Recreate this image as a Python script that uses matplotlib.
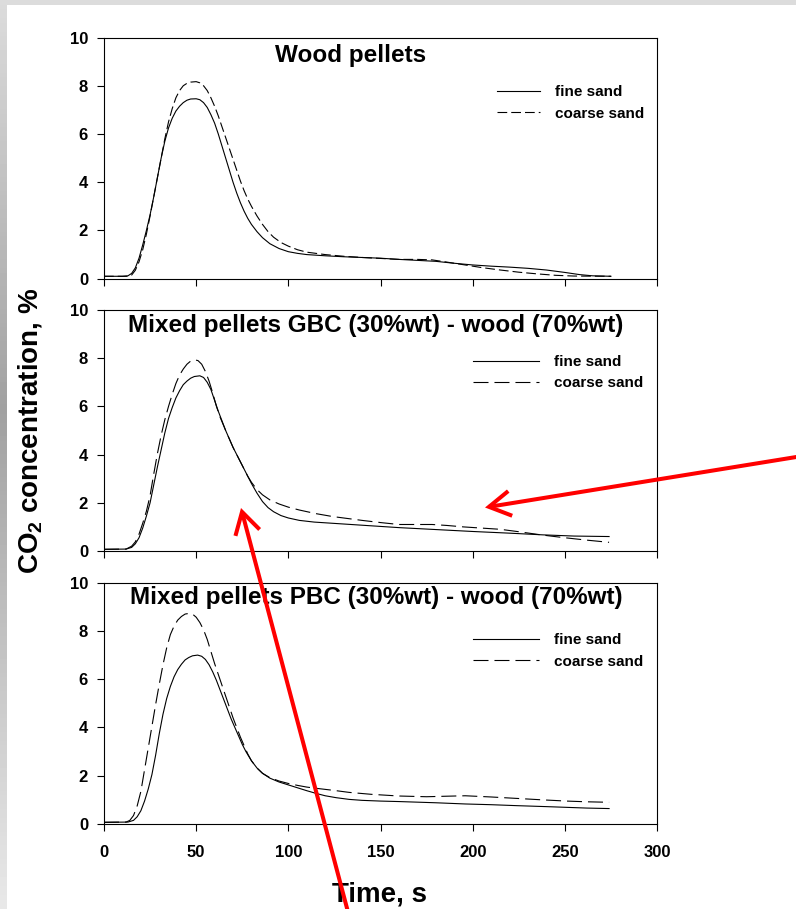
import numpy as np
import matplotlib
matplotlib.use("Agg")
import matplotlib.pyplot as plt
from matplotlib.patches import FancyArrowPatch, Rectangle

plt.rcParams['font.family'] = ['Liberation Sans', 'DejaVu Sans']
plt.rcParams['font.weight'] = 'bold'
plt.rcParams['mathtext.fontset'] = 'custom'
plt.rcParams['mathtext.rm'] = 'Liberation Sans:bold'
plt.rcParams['mathtext.it'] = 'Liberation Sans:bold'
plt.rcParams['mathtext.bf'] = 'Liberation Sans:bold'
plt.rcParams['lines.scale_dashes'] = False

# ---------------- data ----------------
titles = ["Wood pellets",
          "Mixed pellets GBC (30%wt) - wood (70%wt)",
          "Mixed pellets PBC (30%wt) - wood (70%wt)"]
series_labels = ["fine sand", "coarse sand"]
x_ticks = [0, 50, 100, 150, 200, 250, 300]
y_ticks = [0, 2, 4, 6, 8, 10]

# Wood pellets
wood_fine_t = [0, 10, 13, 15, 17, 19, 21, 23, 25, 27, 29, 31, 33, 35, 37, 39, 41, 43, 45, 47, 50, 52, 54, 56, 58, 60, 62, 64, 66, 68, 70, 72, 74, 76, 78, 80, 83, 86, 90, 95, 100, 105, 110, 120, 130, 140, 150, 160, 170, 180, 190, 200, 210, 220, 230, 240, 250, 258, 265, 275]
wood_fine_v = [0.1, 0.1, 0.12, 0.22, 0.45, 0.85, 1.4, 2.0, 2.65, 3.4, 4.2, 5.0, 5.7, 6.25, 6.65, 6.95, 7.15, 7.3, 7.4, 7.45, 7.46, 7.42, 7.3, 7.1, 6.8, 6.45, 6.0, 5.5, 5.0, 4.5, 4.0, 3.55, 3.15, 2.8, 2.5, 2.25, 1.95, 1.7, 1.45, 1.25, 1.12, 1.05, 1.0, 0.95, 0.91, 0.88, 0.85, 0.8, 0.76, 0.72, 0.64, 0.57, 0.52, 0.48, 0.43, 0.36, 0.26, 0.17, 0.12, 0.1]
wood_coarse_t = [0, 13, 15, 17, 19, 21, 23, 25, 27, 29, 31, 33, 35, 37, 39, 41, 43, 45, 47, 50, 52, 54, 56, 58, 60, 62, 64, 66, 68, 70, 72, 74, 76, 78, 80, 83, 86, 89, 92, 96, 100, 105, 110, 120, 130, 140, 150, 160, 170, 178, 185, 195, 205, 215, 225, 235, 245, 255, 275]
wood_coarse_v = [0.1, 0.1, 0.15, 0.35, 0.7, 1.2, 1.85, 2.6, 3.4, 4.2, 5.0, 5.8, 6.5, 7.05, 7.5, 7.8, 8.0, 8.1, 8.15, 8.17, 8.12, 8.0, 7.8, 7.5, 7.15, 6.75, 6.3, 5.85, 5.4, 4.95, 4.5, 4.05, 3.65, 3.3, 3.0, 2.6, 2.25, 1.95, 1.72, 1.5, 1.35, 1.2, 1.1, 1.0, 0.93, 0.88, 0.84, 0.8, 0.8, 0.78, 0.7, 0.58, 0.46, 0.36, 0.27, 0.2, 0.14, 0.11, 0.1]

# Mixed GBC
gbc_fine_t = [0, 12, 15, 17, 19, 21, 23, 25, 27, 29, 31, 33, 35, 37, 39, 41, 43, 45, 47, 49, 52, 54, 56, 58, 60, 62, 64, 66, 68, 70, 72, 74, 76, 78, 80, 83, 86, 89, 92, 96, 100, 106, 114, 124, 140, 160, 180, 200, 220, 238, 255, 274]
gbc_fine_v = [0.07, 0.08, 0.15, 0.3, 0.55, 0.95, 1.45, 2.0, 2.75, 3.5, 4.2, 4.9, 5.5, 5.95, 6.35, 6.65, 6.9, 7.05, 7.17, 7.24, 7.27, 7.2, 7.0, 6.7, 6.25, 5.8, 5.4, 5.0, 4.65, 4.3, 4.0, 3.7, 3.4, 3.1, 2.8, 2.4, 2.05, 1.8, 1.63, 1.47, 1.37, 1.27, 1.2, 1.15, 1.07, 0.97, 0.89, 0.81, 0.74, 0.67, 0.62, 0.6]
gbc_coarse_t = [0, 12, 15, 17, 19, 21, 23, 25, 27, 29, 31, 33, 35, 37, 39, 41, 43, 45, 47, 49.4, 51, 53, 55, 57, 59, 61, 63, 66, 68, 70, 72, 74, 76, 78, 80, 83, 86, 90, 95, 100, 106, 115, 124, 140, 150, 160, 170, 178, 186, 195, 205, 215, 225, 238, 250, 262, 274]
gbc_coarse_v = [0.07, 0.08, 0.2, 0.38, 0.7, 1.15, 1.65, 2.3, 3.2, 4.05, 4.8, 5.45, 6.0, 6.5, 6.95, 7.3, 7.55, 7.75, 7.88, 7.93, 7.9, 7.75, 7.45, 7.05, 6.55, 6.0, 5.55, 5.0, 4.65, 4.3, 4.0, 3.7, 3.4, 3.1, 2.85, 2.55, 2.33, 2.12, 1.95, 1.82, 1.7, 1.55, 1.43, 1.27, 1.18, 1.1, 1.1, 1.1, 1.06, 1.0, 0.95, 0.9, 0.8, 0.66, 0.55, 0.45, 0.36]

# Mixed PBC
pbc_fine_t = [0, 13, 16, 18, 20, 22, 24, 26, 28, 30, 32, 34, 36, 38, 40, 42, 44, 46, 48, 50.8, 53, 55, 57, 59, 61, 63, 65, 67, 69, 71, 73, 75, 77, 80, 83, 86, 90, 95, 100, 105, 110, 115, 120, 126, 133, 140, 150, 160, 180, 196, 210, 224, 240, 251, 262, 274]
pbc_fine_v = [0.07, 0.08, 0.15, 0.3, 0.55, 0.95, 1.45, 2.05, 2.85, 3.75, 4.55, 5.2, 5.7, 6.1, 6.4, 6.62, 6.8, 6.9, 6.97, 7.0, 6.95, 6.82, 6.6, 6.3, 5.95, 5.55, 5.15, 4.75, 4.35, 4.0, 3.65, 3.3, 3.0, 2.62, 2.32, 2.1, 1.9, 1.74, 1.62, 1.5, 1.38, 1.27, 1.17, 1.09, 1.02, 0.98, 0.95, 0.93, 0.88, 0.83, 0.8, 0.76, 0.72, 0.69, 0.66, 0.64]
pbc_coarse_t = [0, 12, 14, 16, 18, 20, 22, 24, 26, 28, 30, 32, 34, 36, 38, 40, 42, 44, 46.3, 48, 50, 52, 54, 56, 58, 60, 62, 64, 66, 68, 70, 72, 74, 76, 78, 80, 83, 86, 90, 95, 100, 105, 110, 115, 125, 133, 145, 160, 175, 185, 196, 210, 224, 238, 251, 262, 274]
pbc_coarse_v = [0.07, 0.08, 0.15, 0.35, 0.75, 1.35, 2.25, 3.15, 4.05, 4.95, 5.8, 6.6, 7.3, 7.85, 8.2, 8.45, 8.6, 8.7, 8.73, 8.7, 8.57, 8.35, 8.05, 7.65, 7.15, 6.65, 6.2, 5.75, 5.3, 4.85, 4.4, 4.0, 3.6, 3.25, 2.9, 2.62, 2.32, 2.1, 1.92, 1.78, 1.68, 1.6, 1.53, 1.48, 1.39, 1.31, 1.23, 1.16, 1.13, 1.15, 1.17, 1.12, 1.06, 1.0, 0.95, 0.92, 0.9]

panels = [
    (wood_fine_t, wood_fine_v, wood_coarse_t, wood_coarse_v),
    (gbc_fine_t, gbc_fine_v, gbc_coarse_t, gbc_coarse_v),
    (pbc_fine_t, pbc_fine_v, pbc_coarse_t, pbc_coarse_v),
]

# ---------------- layout ----------------
W, H = 796, 909
fig = plt.figure(figsize=(W / 100, H / 100), dpi=100)

def fx(px):
    return px / W

def fy(py):
    return 1 - py / H

# decorative grey frame (top strip + left gradient strip)
bg = fig.add_axes([0, 0, 1, 1], zorder=-10)
bg.set_axis_off()
bg.add_patch(Rectangle((0, 0), W, 5, color='#dcdcdc', lw=0))
grad = np.interp(np.linspace(0, 1, 200), [0, 0.45, 1], [0.86, 0.63, 0.91])
bg.imshow(grad[:, None], cmap='gray', vmin=0, vmax=1, extent=[0, 7, H, 0], aspect='auto')
bg.set_xlim(0, W)
bg.set_ylim(H, 0)

axes_px = [(37.5, 278.7), (310.0, 551.0), (582.7, 824.0)]
left_px, right_px = 104, 657
title_pos = [(0.445, 0.927), (0.492, 0.935), (0.492, 0.94)]
dash_styles = [(7.0, 2.9), (10.8, 4.3), (10.8, 4.3)]
handle_len = [2.8, 4.3, 4.3]
legend_anchor = [(497, 85.5), (473, 355), (473, 633.5)]

for i, (ft, fv, ct, cv) in enumerate(panels):
    top, bot = axes_px[i]
    ax = fig.add_axes([fx(left_px), fy(bot), (right_px - left_px) / W, (bot - top) / H])
    l1, = ax.plot(ft, fv, color='black', lw=0.8, label=series_labels[0])
    l2, = ax.plot(ct, cv, color='black', lw=0.8, dashes=dash_styles[i], label=series_labels[1])
    ax.set_xlim(0, 300)
    ax.set_ylim(0, 10)
    ax.set_xticks(x_ticks)
    ax.set_yticks(y_ticks)
    ax.tick_params(direction='out', length=5, width=0.8, labelsize=12, pad=6.5)
    ax.tick_params(axis='x', pad=10)
    if i < 2:
        ax.set_xticklabels([])
    for lab in ax.get_xticklabels() + ax.get_yticklabels():
        lab.set_fontweight('bold')
    for s in ax.spines.values():
        s.set_linewidth(0.8)
    ax.text(title_pos[i][0], title_pos[i][1], titles[i], transform=ax.transAxes,
            ha='center', va='center', fontsize=17.5, fontweight='bold')
    lx, ly = legend_anchor[i]
    ax.legend(handles=[l1, l2], loc='upper left',
              bbox_to_anchor=((lx - left_px) / (right_px - left_px), (bot - ly) / (bot - top)),
              frameon=False, handlelength=handle_len[i], handletextpad=1.0,
              borderpad=0, borderaxespad=0, labelspacing=0.48,
              prop={'size': 11, 'weight': 'bold'})

fig.text(fx(30), fy(431), 'CO$_2$ concentration, %', rotation=90, ha='center', va='center',
         fontsize=20, fontweight='bold')
fig.text(fx(380), fy(901), 'Time, s', ha='center', va='baseline', fontsize=20, fontweight='bold')

# red annotation arrows
for (x0, y0), (x1, y1) in [((800, 456.4), (485, 507.5)), ((348, 912), (241, 508))]:
    arr = FancyArrowPatch((fx(x0), fy(y0)), (fx(x1), fy(y1)), transform=fig.transFigure,
                          arrowstyle='->,head_length=15.5,head_width=9', mutation_scale=1,
                          color='#ff0000', lw=2.9, shrinkA=0, shrinkB=0, zorder=20,
                          capstyle='butt', joinstyle='miter')
    fig.add_artist(arr)

fig.savefig('out.png', dpi=100)
